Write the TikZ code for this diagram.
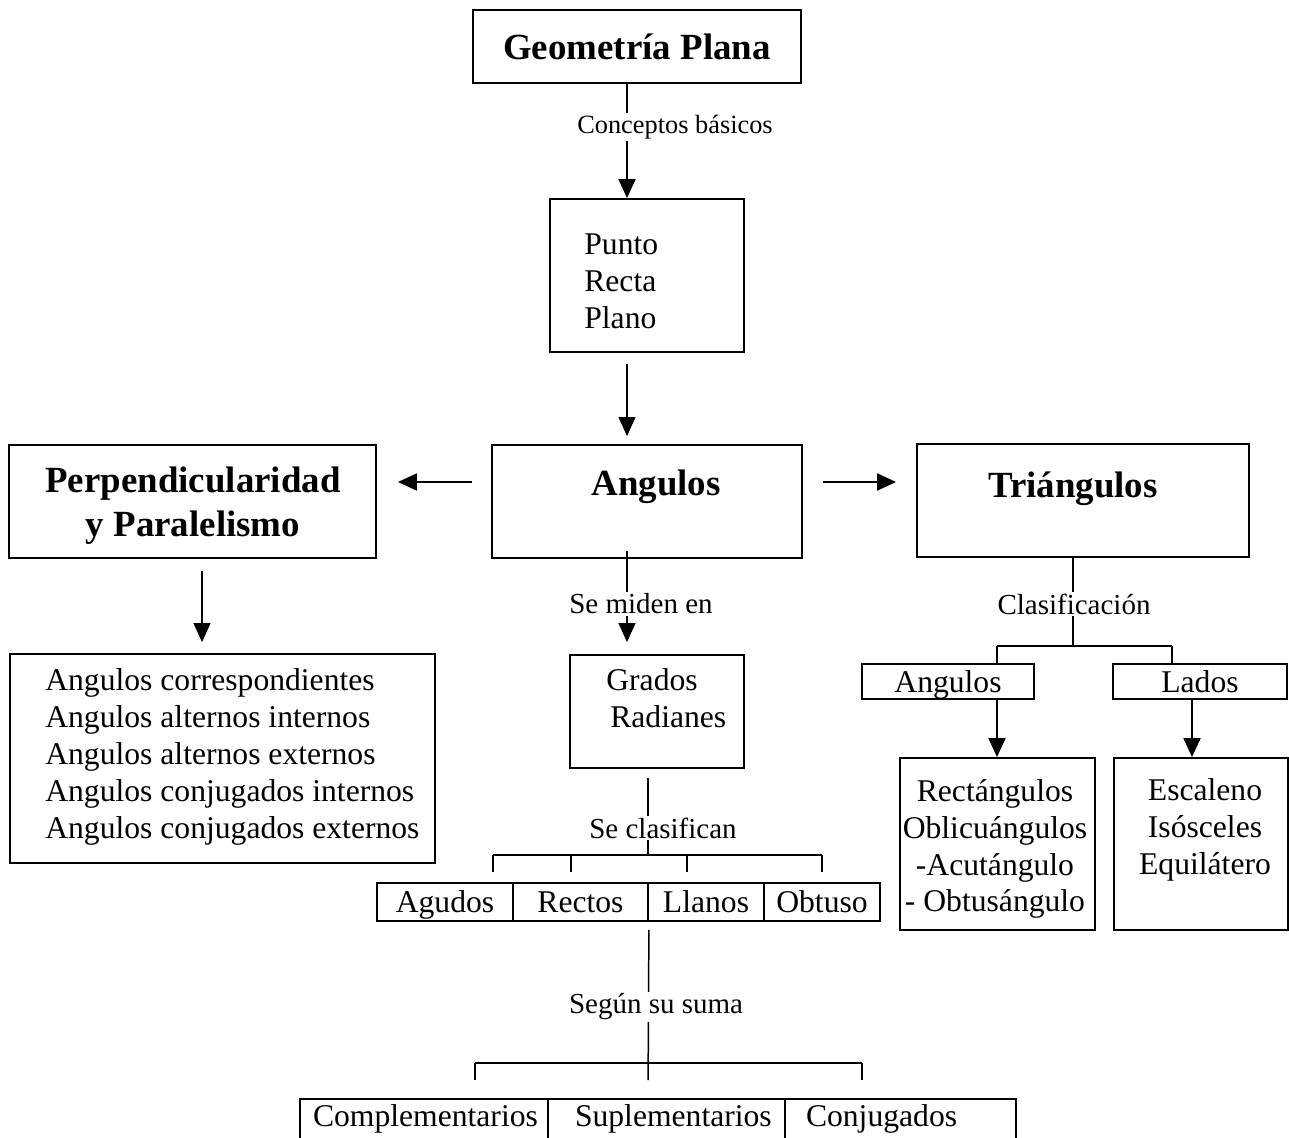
\documentclass[tikz,border=0pt]{standalone}
\usepackage{fontspec}
\setmainfont{Liberation Serif}
\usetikzlibrary{arrows.meta}

\begin{document}
\begin{tikzpicture}[x=0.02cm, y=-0.02cm,
    >={Triangle[length=0.38cm,width=0.34cm]},
    box/.style={draw, line width=1.1pt, inner sep=0pt},
    txt/.style={font=\fontsize{18}{21}\selectfont, inner sep=0pt},
    cell/.style={box, txt, text height=14.7pt, text depth=2.3pt},
    bold/.style={font=\fontsize{21}{25}\selectfont\bfseries, inner sep=0pt},
    lbl/.style={font=\fontsize{16.5}{19}\selectfont, fill=white, inner sep=1pt},
    conn/.style={line width=1.1pt},
    fine/.style={line width=0.6pt},
    mid/.style={line width=0.85pt}]
  \useasboundingbox (0,0) rectangle (1289,1137);
  \coordinate (ax) at (627,0);
  \coordinate (ay) at (0,482);
  \coordinate (px) at (202,0);
  \coordinate (lx) at (1192,0);
  % boxes
  \node[box, bold, minimum width=6.56cm, minimum height=1.46cm] (geo) at (637,46.5) {Geometría Plana};
  \node[box, minimum width=3.88cm, minimum height=3.06cm] (basic) at (647,275.5) {};
  \node[txt, anchor=west, align=left] (basict) at (584,281) {Punto\\Recta\\Plano};
  \node[box, minimum width=6.2cm, minimum height=2.26cm] (angc) at (647,501.5) {};
  \node[bold] (angct) at (656,487) {Angulos};
  \node[box, minimum width=7.34cm, minimum height=2.26cm] (perp) at (192.5,501.5) {};
  \node[bold, align=center] (perpt) at (193,506) {Perpendicularidad\\y Paralelismo};
  \node[box, minimum width=6.64cm, minimum height=2.26cm] (tri) at (1083,500.5) {};
  \node[bold] (trit) at (1073,489) {Triángulos};
  \node[box, minimum width=8.5cm, minimum height=4.18cm] (list) at (222.5,758.5) {};
  \node[txt, anchor=west, align=left] (listt) at (45,757) {Angulos correspondientes\\Angulos alternos internos\\Angulos alternos externos\\Angulos conjugados internos\\Angulos conjugados externos};
  \node[box, minimum width=3.48cm, minimum height=2.26cm] (grad) at (657,711.5) {};
  \node[txt, anchor=west, align=left] (gradt) at (606,698) {Grados\\\hspace*{0.08cm}Radianes};
  % clases de angulos
  \node[cell, minimum width=2.72cm, minimum height=0.76cm] (agu) at (445,902) {Agudos};
  \node[cell, minimum width=2.7cm, minimum height=0.76cm] (rec) at (580.5,902) {Rectos};
  \node[cell, minimum width=2.32cm, minimum height=0.76cm] (lla) at (706,902) {Llanos};
  \node[cell, minimum width=2.32cm, minimum height=0.76cm] (obt) at (822,902) {Obtuso};
  \node[cell, text height=12.5pt, text depth=3.5pt, minimum width=4.96cm, minimum height=0.8cm, text width=4.44cm, align=left] (com) at (424,1119) {Complementarios};
  \node[cell, text height=12.5pt, text depth=3.5pt, minimum width=4.74cm, minimum height=0.8cm, text width=3.66cm, align=left] (sup) at (666.5,1119) {Suplementarios};
  \node[cell, text height=12.5pt, text depth=3.5pt, minimum width=4.62cm, minimum height=0.8cm, text width=3.78cm, align=left] (con) at (900.5,1119) {Conjugados};
  % triangulos
  \node[cell, minimum width=3.44cm, minimum height=0.7cm] (angs) at (948,681.5) {Angulos};
  \node[cell, minimum width=3.48cm, minimum height=0.7cm] (lad) at (1200,681.5) {Lados};
  \node[box, minimum width=3.9cm, minimum height=3.44cm] (rect) at (997.5,844) {};
  \node[txt, align=center] (rectt) at (995,849) {Rectángulos\\Oblicuángulos\\-Acutángulo\\- Obtusángulo};
  \node[box, minimum width=3.48cm, minimum height=3.44cm] (esc) at (1201,844) {};
  \node[txt, align=center] (esct) at (1205,830) {Escaleno\\Isósceles\\Equilátero};
  % connectors
  \draw[->, conn] (geo.south -| ax) -- (basic.north -| ax);
  \draw[->, fine, shorten <=0.22cm, shorten >=0.16cm] (basic.south -| ax) -- (angc.north -| ax);
  \draw[->, conn, shorten <=0.38cm, shorten >=0.42cm] (angc.west |- ay) -- (perp.east |- ay);
  \draw[->, conn, shorten <=0.4cm, shorten >=0.4cm] (angc.east |- ay) -- (tri.west |- ay);
  \draw[->, fine, shorten <=0.24cm, shorten >=0.22cm] (perp.south -| px) -- (list.north -| px);
  \draw[->, fine, shorten <=-0.16cm, shorten >=0.24cm] (angc.south -| ax) -- (grad.north -| ax);
  % se clasifican
  \coordinate (sc0) at (648,855);
  \coordinate (sc1) at (493,855);
  \coordinate (sc2) at (571,855);
  \coordinate (sc3) at (687,855);
  \coordinate (sc4) at (822,855);
  \draw[mid, shorten <=0.18cm] (grad.south -| sc0) -- (sc0);
  \draw[mid] (sc1) -- (sc4);
  \draw[mid, shorten >=0.2cm] (sc1) -- (agu.north -| sc1);
  \draw[mid, shorten >=0.2cm] (sc2) -- (rec.north -| sc2);
  \draw[mid, shorten >=0.2cm] (sc3) -- (lla.north -| sc3);
  \draw[mid, shorten >=0.2cm] (sc4) -- (obt.north -| sc4);
  % segun su suma
  \coordinate (ss0) at (648,1063);
  \coordinate (ss1) at (475,1063);
  \coordinate (ss2) at (862,1063);
  \draw[mid, shorten <=0.16cm, shorten >=0.36cm] (rec.south east) -- (sup.north -| ss0);
  \draw[mid] (ss1) -- (ss2);
  \draw[mid, shorten >=0.36cm] (ss1) -- (com.north -| ss1);
  \draw[mid, shorten >=0.36cm] (ss2) -- (con.north -| ss2);
  % clasificacion
  \coordinate (cl0) at (1073,646);
  \coordinate (cl1) at (997,646);
  \coordinate (cl2) at (1172,646);
  \draw[mid] (tri.south -| cl0) -- (cl0);
  \draw[mid] (cl1) -- (cl2);
  \draw[mid] (cl1) -- (angs.north -| cl1);
  \draw[mid] (cl2) -- (lad.north -| cl2);
  \draw[->, conn] (angs.south -| cl1) -- (rect.north -| cl1);
  \draw[->, conn] (lad.south -| lx) -- (esc.north -| lx);
  % labels
  \node[lbl, font=\fontsize{15}{18}\selectfont] (cbas) at (675,127) {Conceptos básicos};
  \node[lbl] (smid) at (641,604) {Se miden en};
  \node[lbl] (scla) at (663,828) {Se clasifican};
  \node[lbl] (ssum) at (656,1007) {Según su suma};
  \node[lbl] (clas) at (1074,604) {Clasificación};
\end{tikzpicture}
\end{document}
